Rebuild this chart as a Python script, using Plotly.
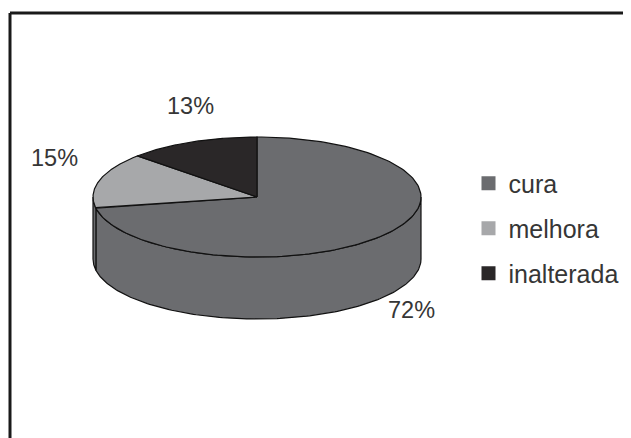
import numpy as np
import plotly.graph_objects as go

categories = ["cura", "melhora", "inalterada"]
values = [72, 15, 13]
colors = ["#6b6c6f", "#a7a8aa", "#2a2728"]
label_pos = {"cura": (411, 310), "melhora": (54, 158), "inalterada": (190, 105.5)}

CX, CY, RX, RY, DEPTH = 257, 197, 164, 60, 62
FONT = "Liberation Sans, Arial, sans-serif"
OFF = 8  # page body margin offset

fig = go.Figure()
total = sum(values)

bounds = []
start = 90.0
for v in values:
    sweep = 360.0 * v / total
    bounds.append((start, start - sweep))
    start -= sweep


def arc(t0, t1, dy=0.0, n=160):
    t = np.radians(np.linspace(t0, t1, n))
    return CX + RX * np.cos(t), CY - RY * np.sin(t) + dy


# side walls (front half only)
for (a, b), c in zip(bounds, colors):
    for k in range(-2, 2):
        lo = max(b, -180 + 360 * k)
        hi = min(a, 0 + 360 * k)
        if hi - lo > 0.01:
            x1, y1 = arc(hi, lo)
            x2, y2 = arc(lo, hi, dy=DEPTH)
            xs = np.concatenate([x1, x2, x1[:1]])
            ys = np.concatenate([y1, y2, y1[:1]])
            fig.add_trace(go.Scatter(x=xs, y=ys, mode="lines", fill="toself",
                                     fillcolor=colors[0], line=dict(color="#111111", width=1.2),
                                     showlegend=False, hoverinfo="skip"))

# top faces
for (a, b), c, name in zip(bounds, colors, categories):
    xa, ya = arc(a, b)
    xs = np.concatenate([[CX], xa, [CX]])
    ys = np.concatenate([[CY], ya, [CY]])
    fig.add_trace(go.Scatter(x=xs, y=ys, mode="lines", fill="toself",
                             fillcolor=c, line=dict(color="#111111", width=1.2),
                             showlegend=False, hoverinfo="skip", name=name))

# legend entries
for c, name in zip(colors, categories):
    fig.add_trace(go.Scatter(x=[None], y=[None], mode="markers", name=name,
                             legendgroup=name,
                             marker=dict(symbol="square", size=14, color=c,
                                         line=dict(width=0))))

# percentage labels
for name, v in zip(categories, values):
    px, py = label_pos[name]
    fig.add_annotation(x=px, y=py, text=f"{v}%", showarrow=False,
                       font=dict(family=FONT, size=23.5, color="#363636"),
                       xanchor="center", yanchor="middle")

# frame
fig.add_shape(type="line", x0=10, x1=10, y0=13, y1=450, line=dict(color="#1a1a1a", width=3))
fig.add_shape(type="line", x0=10, x1=632, y0=13, y1=13, line=dict(color="#1a1a1a", width=3))
fig.add_shape(type="line", x0=628, x1=628, y0=13, y1=450, line=dict(color="#d8d8d8", width=1))

fig.update_layout(
    width=631, height=438,
    margin=dict(l=0, r=0, t=0, b=0),
    paper_bgcolor="white", plot_bgcolor="white",
    xaxis=dict(range=[OFF, 631 + OFF], visible=False, fixedrange=True),
    yaxis=dict(range=[438 + OFF, OFF], visible=False, fixedrange=True),
    showlegend=True,
    legend=dict(x=(468.5 - OFF) / 631, y=1 - (160.5 - OFF) / 438,
                xanchor="left", yanchor="top",
                font=dict(family=FONT, size=25, color="#363636"),
                tracegroupgap=9.5, bgcolor="rgba(0,0,0,0)", itemwidth=30),
)

fig.write_html("out.html")
